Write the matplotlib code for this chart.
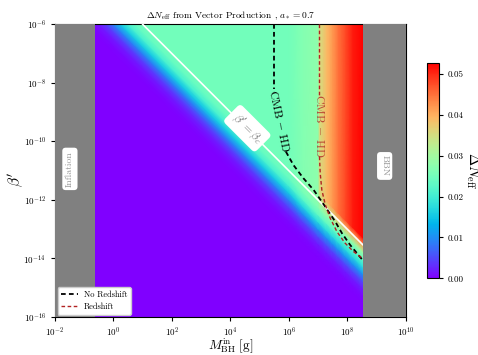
import numpy as np
import matplotlib
matplotlib.use("Agg")
from matplotlib import pyplot as plt
from matplotlib.ticker import LogLocator, NullLocator

plt.rcParams['font.family'] = 'serif'
plt.rcParams['font.serif'] = ['cmr10']
plt.rcParams['mathtext.fontset'] = 'cm'
plt.rcParams['axes.formatter.use_mathtext'] = True
plt.rcParams['axes.unicode_minus'] = False

# beta_c line: beta_c = BETAC_NORM / M  (M in g)
BETAC_NORM = 1e-5
inflation_edge = 0.23    # g
bbn_edge = 3.4e8         # g

# mass nodes (log10 M / g) with the dNeff level above beta_c
mass_log = [-0.75, 6.0, 6.5, 7.0, 7.05, 7.3, 7.5, 7.7, 7.95, 8.2, 8.55]
dn_base = [0.025, 0.025, 0.027, 0.028, 0.028, 0.028, 0.028, 0.028, 0.028, 0.028, 0.028]
dn_excess = [0.0, 0.0, 0.0, 0.0, 0.007, 0.011, 0.014, 0.017, 0.020, 0.023, 0.025]

# log10(beta'/beta_c) nodes and the fraction kept there
offset_log = [-14, -2.25, -2.0, -1.75, -1.5, -1.25, -1.0, -0.75, -0.5, -0.25, 0.0, 0.25, 9]
base_frac = [0, 0, 0.005, 0.02, 0.07, 0.18, 0.37, 0.62, 0.83, 0.95, 1.0, 1.0, 1.0]
excess_frac = [0, 0, 0, 0, 0, 0, 0, 0, 0, 0.1, 0.55, 1.0, 1.0]

# CMB-HD contours (log10 M, log10 beta')
nr_top_m = [5.51, 5.51]
nr_top_b = [-6.0, -8.2]
nr_bot_m = [5.90, 6.16, 6.50, 6.85, 7.13, 7.36, 7.59, 7.82, 8.10, 8.53]
nr_bot_b = [-10.35, -10.81, -11.26, -11.66, -12.06, -12.40, -12.74, -13.14, -13.54, -14.06]
rs_top_m = [7.05, 7.05]
rs_top_b = [-6.0, -8.42]
rs_bot_m = [7.05, 7.075, 7.13, 7.25, 7.42, 7.65, 7.93, 8.22, 8.53]
rs_bot_b = [-10.52, -11.09, -11.66, -12.17, -12.63, -13.09, -13.48, -13.77, -14.0]

cb_ticks = [0.0, 0.01, 0.02, 0.03, 0.04, 0.05]
dn_max = 0.0528
red = '#b22222'

fig = plt.figure(figsize=(4.78, 3.55), dpi=100)
ax = fig.add_axes([55 / 478, 1 - 317 / 355, 350.7 / 478, 292.7 / 355])
cax = fig.add_axes([427.3 / 478, 1 - 278.3 / 355, 11.4 / 478, 215.6 / 355])

# grid along beta_c (curvilinear): rows = offsets, cols = masses
lm = np.array(mass_log)
lo = np.array(offset_log)
X = np.tile(10.0 ** lm, (len(lo), 1))
Y = (BETAC_NORM / 10.0 ** lm)[None, :] * 10.0 ** lo[:, None]
Z = np.outer(base_frac, dn_base) + np.outer(excess_frac, dn_excess)

mesh = ax.pcolormesh(X, Y, Z, shading='gouraud', cmap='rainbow', vmin=0, vmax=dn_max, zorder=1)

ax.set_xscale('log')
ax.set_yscale('log')
ax.set_xlim(1e-2, 1e10)
ax.set_ylim(1e-16, 1e-6)

# beta' = beta_c line
mline = np.array([BETAC_NORM / 1e-6, bbn_edge])
ax.plot(mline, BETAC_NORM / mline, color='white', lw=1.2, zorder=3)

# grey excluded bands
ax.axvspan(1e-2, inflation_edge, color='grey', zorder=4, lw=0)
ax.axvspan(bbn_edge, 1e10, color='grey', zorder=4, lw=0)

dash = (0, (2.6, 1.8))
p = lambda a: 10.0 ** np.array(a)
ax.plot(p(nr_top_m), p(nr_top_b), color='black', ls=dash, lw=1.3, zorder=3)
ax.plot(p(nr_bot_m), p(nr_bot_b), color='black', ls=dash, lw=1.3, zorder=3, label='No Redshift')
ax.plot(p(rs_top_m), p(rs_top_b), color=red, ls=dash, lw=1.0, zorder=3)
ax.plot(p(rs_bot_m), p(rs_bot_b), color=red, ls=dash, lw=1.0, zorder=3, label='Redshift')

ax.text(10 ** 5.67, 10 ** -9.30, r'CMB $-$ HD', rotation=-78, ha='center', va='center',
        fontsize=8.5, color='black', zorder=5)
ax.text(10 ** 7.06, 10 ** -9.47, r'CMB $-$ HD', rotation=-90, ha='center', va='center',
        fontsize=8.5, color=red, alpha=0.8, zorder=5)

box = dict(boxstyle='round,pad=0.35', fc='white', ec='none')
ax.text(10 ** 4.58, 10 ** -9.55, r"$\beta' = \beta_c$", rotation=-45, ha='center', va='center',
        fontsize=8.5, color='0.45', bbox=box, zorder=5)
ax.text(10 ** -1.49, 10 ** -10.94, 'Inflation', rotation=90, ha='center', va='center',
        fontsize=7, color='0.6', bbox=box, zorder=5)
ax.text(10 ** 9.28, 10 ** -10.84, 'BBN', rotation=270, ha='center', va='center',
        fontsize=7, color='0.6', bbox=box, zorder=5)

ax.xaxis.set_major_locator(LogLocator(base=100))
ax.yaxis.set_major_locator(LogLocator(base=100))
ax.xaxis.set_minor_locator(NullLocator())
ax.yaxis.set_minor_locator(NullLocator())
ax.tick_params(labelsize=6.5, length=3)

ax.set_xlabel(r'$M_{\rm BH}^{\rm in}\ [{\rm g}]$', fontsize=9.5)
ax.xaxis.set_label_coords(0.5, -0.066)
ax.set_ylabel(r"$\beta'$", fontsize=11)
ax.yaxis.set_label_coords(-0.085, 0.47)
ax.set_title(r'$\Delta N_{\rm eff}$ from Vector Production , $a_* = 0.7$', fontsize=6.8, pad=4)

leg = ax.legend(loc='lower left', fontsize=6, framealpha=1, borderaxespad=0.3)
leg.set_zorder(6)

cb = fig.colorbar(mesh, cax=cax, ticks=cb_ticks, format='%.2f')
cb.ax.tick_params(labelsize=6.5, length=3)
cb.set_label(r'$\Delta N_{\rm eff}$', rotation=270, fontsize=10.5, labelpad=12.5)

fig.savefig('out.png', dpi=100)
